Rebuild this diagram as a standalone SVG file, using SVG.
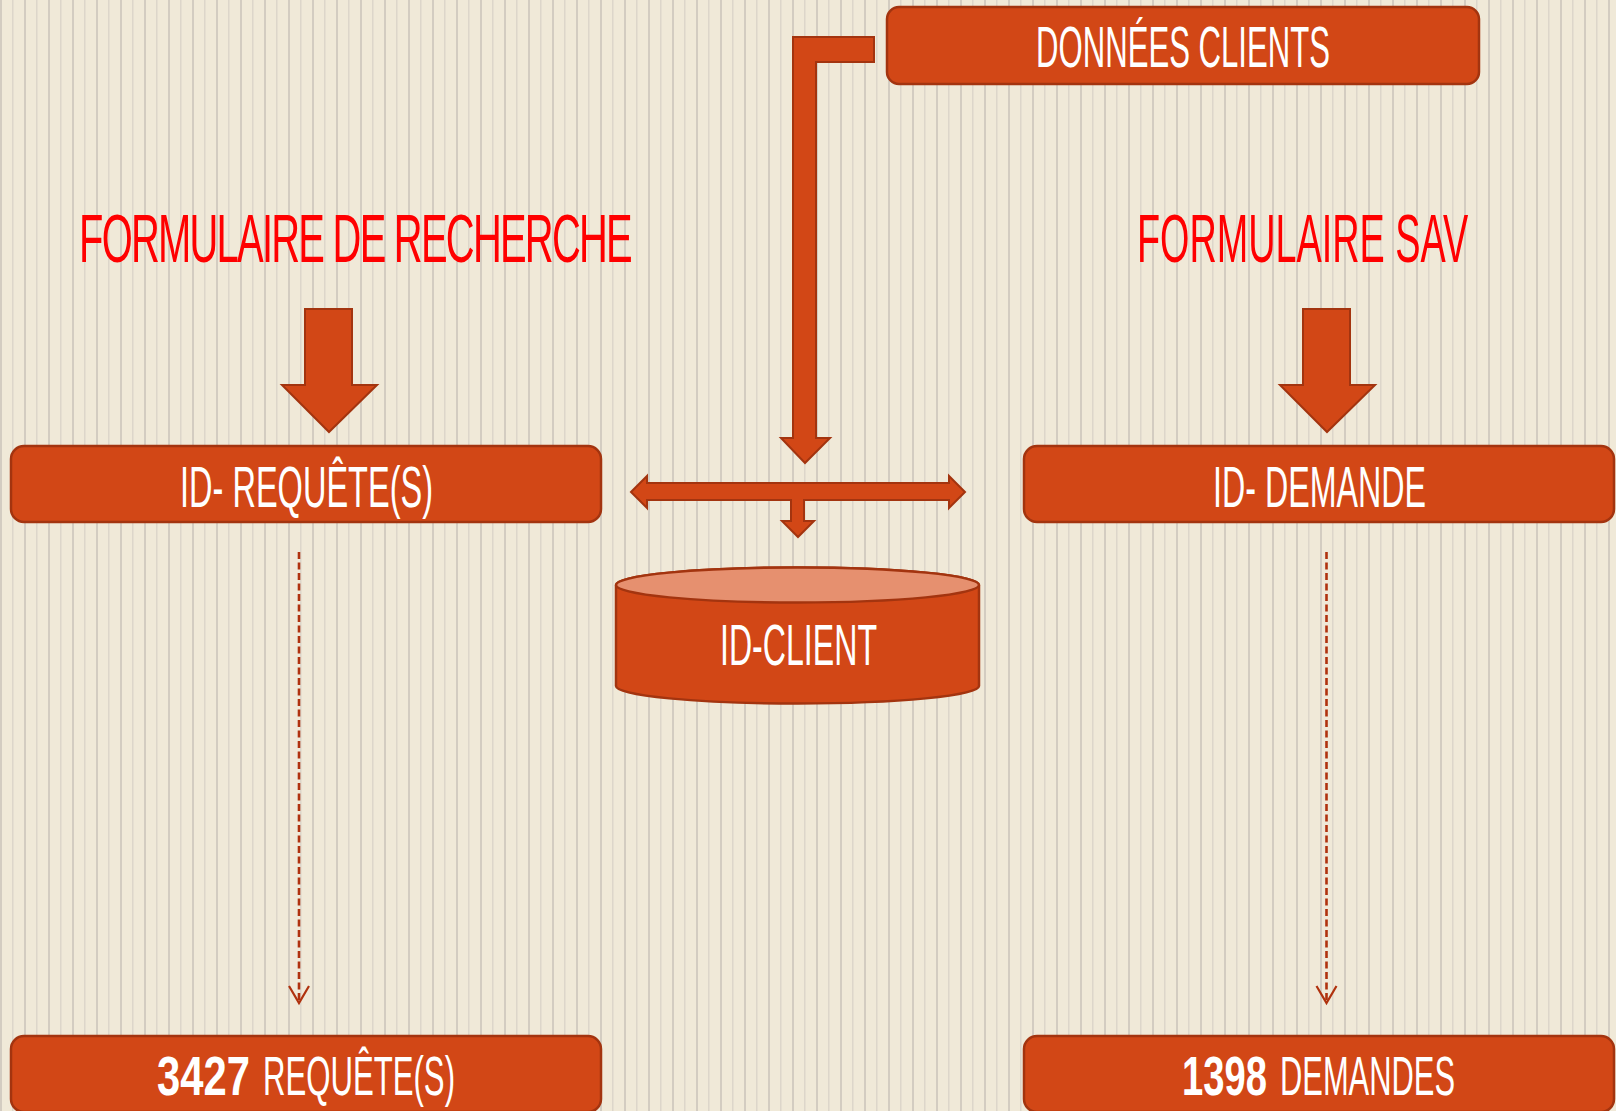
<svg xmlns="http://www.w3.org/2000/svg" width="1616" height="1111" viewBox="0 0 1616 1111">
<defs>
<pattern id="stripes" x="0" y="0" width="24" height="20" patternUnits="userSpaceOnUse">
<rect width="24" height="20" fill="#f0e9d8"/>
<rect x="0" y="0" width="2" height="20" fill="#d3ccc1"/>
<rect x="12.2" y="0" width="1.2" height="20" fill="#d9d2c7"/>
</pattern>
<marker id="vhead" markerUnits="userSpaceOnUse" markerWidth="24" markerHeight="24" refX="20" refY="12" orient="auto" viewBox="0 0 24 24">
<polyline points="3,2 20,12 3,22" fill="none" stroke="#b0320e" stroke-width="2.2"/>
</marker>
<style>
.box{fill:#d24716;stroke:#a3340f;stroke-width:2.5}
.arrow{fill:#d24716;stroke:#a3340f;stroke-width:2;stroke-linejoin:miter}
.wt{fill:#ffffff;font-family:"Liberation Sans Narrow","Liberation Sans","DejaVu Sans",sans-serif;font-size:57px}
.rt{fill:#ff0000;font-family:"Liberation Sans Narrow","Liberation Sans","DejaVu Sans",sans-serif;font-size:68px}
.bt{fill:#ffffff;font-family:"Liberation Sans Narrow","Liberation Sans","DejaVu Sans",sans-serif;font-size:55px}
.num{font-weight:bold}
.dash{fill:none;stroke:#b0320e;stroke-width:2.6;stroke-dasharray:7 3.5}
</style>
</defs>
<rect width="1616" height="1111" fill="url(#stripes)"/>

<g id="label-formulaire-recherche">
<text class="rt" x="79" y="262" letter-spacing="-3" textLength="552" lengthAdjust="spacingAndGlyphs">FORMULAIRE DE RECHERCHE</text>
</g>
<g id="label-formulaire-sav">
<text class="rt" transform="translate(1137,262) scale(0.556,1)" x="0" y="0">FORMULAIRE SAV</text>
</g>

<g id="connectors">
<polygon id="arrow-recherche" class="arrow" points="305,309 352,309 352,385 377,385 329,432 282,385 305,385"/>
<polygon id="arrow-sav" class="arrow" points="1303,309 1350,309 1350,385 1375,385 1327,432 1280,385 1303,385"/>
<polygon id="arrow-donnees" class="arrow" points="874,37 874,62 816,62 816,438 830,438 805,463 781,438 793,438 793,37"/>
<polygon id="arrow-junction" class="arrow" points="631,492 647,476 647,483 949,483 949,476 965,492 949,508 949,500 804,500 804,521 814,521 798,537 782,521 791,521 791,500 647,500 647,508"/>
<line id="dash-requetes" class="dash" x1="299" y1="552" x2="299" y2="1003" marker-end="url(#vhead)"/>
<line id="dash-demandes" class="dash" x1="1326.5" y1="552" x2="1326.5" y2="1003" marker-end="url(#vhead)"/>
</g>

<g id="node-donnees-clients">
<rect class="box" x="887" y="7" width="592" height="77" rx="12"/>
<text class="wt" x="1036" y="67" textLength="294" lengthAdjust="spacingAndGlyphs">DONNÉES CLIENTS</text>
</g>

<g id="node-id-requetes">
<rect class="box" x="11" y="446" width="590" height="76" rx="13"/>
<text class="wt" x="180" y="507" textLength="253" lengthAdjust="spacingAndGlyphs">ID- REQUÊTE(S)</text>
</g>

<g id="node-id-demande">
<rect class="box" x="1024" y="446" width="590" height="76" rx="13"/>
<text class="wt" x="1213" y="507" textLength="213" lengthAdjust="spacingAndGlyphs">ID- DEMANDE</text>
</g>

<g id="node-id-client">
<path class="box" d="M616,585 L616,686 A181.5,17.5 0 0 0 979,686 L979,585 A181.5,17.5 0 0 0 616,585 Z"/>
<ellipse cx="797.5" cy="585" rx="181.5" ry="17.5" fill="#e6906f" stroke="#a3340f" stroke-width="2.5"/>
<text class="wt" x="720" y="665" textLength="157" lengthAdjust="spacingAndGlyphs">ID-CLIENT</text>
</g>

<g id="node-3427-requetes">
<rect class="box" x="11" y="1036" width="590" height="76" rx="13"/>
<text class="bt num" transform="translate(157,1095) scale(0.76,1)" x="0" y="0">3427</text>
<text class="bt" x="263" y="1095" textLength="192" lengthAdjust="spacingAndGlyphs">REQUÊTE(S)</text>
</g>

<g id="node-1398-demandes">
<rect class="box" x="1024" y="1036" width="590" height="76" rx="13"/>
<text class="bt num" transform="translate(1182,1095) scale(0.695,1)" x="0" y="0">1398</text>
<text class="bt" x="1280" y="1095" textLength="175" lengthAdjust="spacingAndGlyphs">DEMANDES</text>
</g>
</svg>
